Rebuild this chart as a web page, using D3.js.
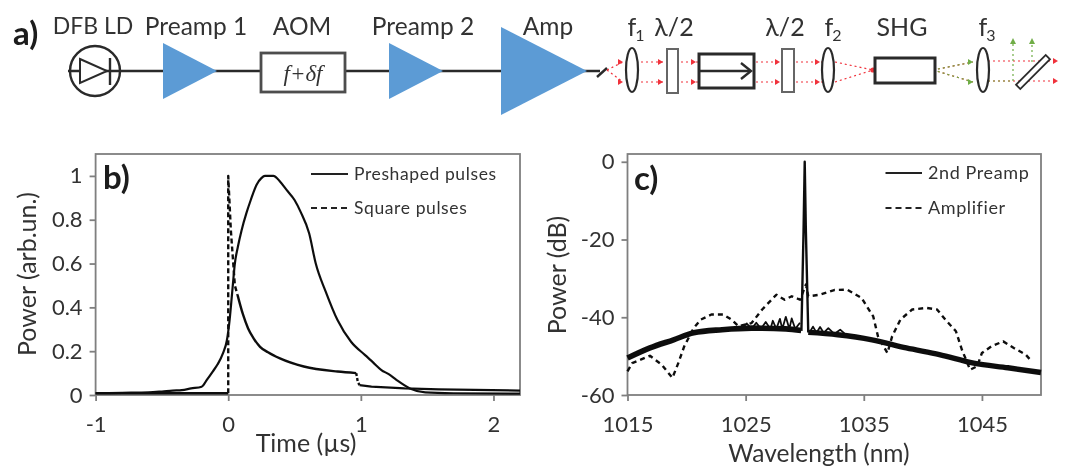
<!DOCTYPE html>
<html>
<head>
<meta charset="utf-8">
<script src="https://cdn.jsdelivr.net/npm/d3@7"></script>
<style>
  html, body { margin: 0; padding: 0; background: #fff; }
  text { font-family: Lato, "Open Sans", sans-serif; fill: #333; }
</style>
</head>
<body>
<svg id="chart" width="1067" height="466"></svg>
<script>
// panel b
const timeTicks = [-1, 0, 1, 2];
const pulseTicks = [0, 0.2, 0.4, 0.6, 0.8, 1];
const preshapedTime = [-1, -0.8, -0.6, -0.5, -0.42, -0.35, -0.28, -0.2, -0.16, -0.117, -0.08, -0.04, -0.01, 0.01, 0.03, 0.05, 0.074, 0.1, 0.137, 0.17, 0.214, 0.25, 0.277, 0.34, 0.39, 0.44, 0.5, 0.545, 0.61, 0.66, 0.735, 0.824, 0.926, 1.03, 1.09, 1.155, 1.21, 1.27, 1.37, 1.486, 1.7, 2.2];
const preshapedPower = [0.008, 0.01, 0.012, 0.016, 0.02, 0.022, 0.03, 0.038, 0.07, 0.107, 0.14, 0.19, 0.25, 0.34, 0.47, 0.6, 0.68, 0.75, 0.83, 0.89, 0.96, 0.99, 1.0, 1.0, 0.975, 0.936, 0.89, 0.837, 0.738, 0.6, 0.472, 0.342, 0.243, 0.183, 0.15, 0.114, 0.095, 0.068, 0.03, 0.012, 0.008, 0.006];
const squareRiseTime = [0, 0, 0.02, 0.05, 0.07];
const squareRisePower = [0.008, 1, 0.75, 0.5, 0.457];
const squareBaseTime = [-1, -0.5, 0];
const squareBasePower = [0.008, 0.008, 0.008];
const squareDecayTime = [0.07, 0.11, 0.15, 0.19, 0.24, 0.3, 0.39, 0.57, 0.824, 0.965];
const squareDecayPower = [0.457, 0.37, 0.304, 0.26, 0.22, 0.195, 0.167, 0.13, 0.107, 0.1];
const squareDropTime = [0.965, 0.977, 0.99];
const squareDropPower = [0.1, 0.06, 0.045];
const squareTailTime = [0.99, 1.08, 1.33, 1.59, 2.2];
const squareTailPower = [0.045, 0.038, 0.03, 0.026, 0.02];

// panel c
const wavelengthTicks = [1015, 1025, 1035, 1045];
const powerTicks = [-60, -40, -20, 0];
const preampWavelength = [1015, 1016.9, 1018.9, 1020.6, 1023, 1025.5, 1028.4, 1029.7];
const preampPower = [-50.5, -47.9, -45.8, -44, -43.2, -42.8, -43, -43.4];
const preampRightWavelength = [1030.3, 1032.8, 1035.7, 1038.6, 1041.4, 1044.3, 1047.2, 1050];
const preampRightPower = [-43.9, -44.5, -45.8, -47.9, -49.6, -51.8, -53, -54.2];
const peakWavelength = [1029.72, 1029.9, 1030, 1030.1, 1030.3];
const peakPower = [-43.5, -18, 0, -18, -43.9];
const noiseWavelength = [1024.6, 1025.1, 1025.5, 1025.9, 1026.3, 1026.7, 1027.1, 1027.3, 1027.6, 1027.9, 1028.1, 1028.4, 1028.7, 1028.9, 1029.2, 1029.6];
const noisePower = [-43, -41.6, -43, -41.4, -43, -41.2, -43, -40.9, -43, -40.4, -43, -39.9, -43, -40.3, -43, -41.4];
const noiseRightWavelength = [1030.4, 1030.7, 1031, 1031.3, 1031.6, 1032, 1032.5, 1033, 1033.6];
const noiseRightPower = [-44, -42.4, -44, -42.5, -44, -42.8, -44.3, -43.2, -44.8];
const amplifierWavelength = [1015, 1015.4, 1016.9, 1017.9, 1018.8, 1019.3, 1019.8, 1020.6, 1021.2, 1022.1, 1023.1, 1023.8, 1024.4, 1025.5, 1026.4, 1027.6, 1028.3, 1028.9, 1029.6, 1030.1, 1030.3, 1031.3, 1032.5, 1033.6, 1034.8, 1035.8, 1036.2, 1037, 1037.4, 1038.1, 1039.1, 1040.3, 1041.2, 1041.9, 1042.8, 1043.3, 1044, 1044.6, 1045, 1045.8, 1046.8, 1047.7, 1048.7, 1049.2];
const amplifierPower = [-53.9, -51.8, -49.9, -52.2, -55.6, -51.8, -47.5, -42.8, -40.6, -39.3, -39.3, -40.6, -42.3, -41.5, -38, -34.2, -35.5, -34.6, -35.5, -31.6, -34.6, -34.2, -33, -32.9, -35, -39.8, -44.9, -49.2, -44.9, -40.6, -38, -37.6, -38, -40.6, -43.6, -48.3, -53.5, -52.6, -49.2, -47.5, -46.2, -47.9, -49.6, -51.3];

const svg = d3.select("#chart");
const defs = svg.append("defs");
defs.append("filter").attr("id", "soft")
  .attr("filterUnits", "userSpaceOnUse")
  .attr("x", 0).attr("y", 0).attr("width", 1067).attr("height", 466)
  .append("feGaussianBlur").attr("stdDeviation", 0.7);
// the source picture is a soft upscale, so everything goes through a small blur
const root = svg.append("g").attr("filter", "url(#soft)");
root.append("rect").attr("width", 1067).attr("height", 466).attr("fill", "#fff");

const zip = (xs, ys) => xs.map((x, i) => [x, ys[i]]);

function drawPanel(o) {
  const g = root.append("g");
  g.append("rect")
    .attr("x", o.x.range()[0]).attr("y", o.y.range()[1])
    .attr("width", o.x.range()[1] - o.x.range()[0])
    .attr("height", o.y.range()[0] - o.y.range()[1])
    .attr("fill", "none").attr("stroke", "#7f7f7f").attr("stroke-width", 1.8);

  const bottom = g.append("g")
    .attr("transform", `translate(0,${o.y.range()[0]})`)
    .call(d3.axisBottom(o.x).tickValues(o.xTicks).tickFormat(d => String(d)).tickSize(6).tickPadding(15));
  const left = g.append("g")
    .attr("transform", `translate(${o.x.range()[0]},0)`)
    .call(d3.axisLeft(o.y).tickValues(o.yTicks).tickFormat(d => String(d)).tickSize(6).tickPadding(7));
  [bottom, left].forEach(a => {
    a.select(".domain").remove();
    a.selectAll("line").attr("stroke", "#7f7f7f").attr("stroke-width", 1.8);
    a.selectAll("text").style("font-size", "22px");
  });
  return g;
}

function drawLine(g, x, y, pts, width, dash, curve) {
  const line = d3.line().x(d => x(d[0])).y(d => y(d[1]));
  if (curve) line.curve(curve);
  g.append("path").attr("d", line(pts))
    .attr("fill", "none").attr("stroke", "#111")
    .attr("stroke-width", width).attr("stroke-linejoin", "round")
    .attr("stroke-dasharray", dash || null);
}

function legendRow(g, x0, x1, tx, y, str, dash, size) {
  g.append("line").attr("x1", x0).attr("x2", x1).attr("y1", y).attr("y2", y)
    .attr("stroke", "#222").attr("stroke-width", 2.2).attr("stroke-dasharray", dash || null);
  g.append("text").attr("x", tx).attr("y", y).attr("dy", "0.35em")
    .style("font-size", size + "px").style("letter-spacing", "0.6px").text(str);
}

function label(g, x, y, str, size, opts) {
  opts = opts || {};
  const t = g.append("text").attr("x", x).attr("y", y).attr("dy", "0.35em")
    .attr("text-anchor", opts.anchor || "middle")
    .style("font-size", size + "px").text(str);
  if (opts.bold) t.style("font-weight", 700).style("fill", "#1a1a1a");
  if (opts.italic) t.style("font-style", "italic").style("font-family", "'Liberation Serif', serif");
  if (opts.rotate) t.attr("transform", `rotate(-90,${x},${y})`);
  return t;
}

// panel b
const xb = d3.scaleLinear().domain([-1, 2.2]).range([95.6, 520]);
const yb = d3.scaleLinear().domain([0, 1.1]).range([395, 154]);
const gb = drawPanel({ x: xb, y: yb, xTicks: timeTicks, yTicks: pulseTicks });
drawLine(gb, xb, yb, zip(squareBaseTime, squareBasePower), 2.4);
drawLine(gb, xb, yb, zip(squareRiseTime, squareRisePower), 2.4, "5 3");
drawLine(gb, xb, yb, zip(squareDecayTime, squareDecayPower), 2.4, null, d3.curveMonotoneX);
drawLine(gb, xb, yb, zip(squareDropTime, squareDropPower), 2.4, "3 2");
drawLine(gb, xb, yb, zip(squareTailTime, squareTailPower), 2.2);
drawLine(gb, xb, yb, zip(preshapedTime, preshapedPower), 2.2, null, d3.curveMonotoneX);
label(gb, 103, 177, "b)", 33, { anchor: "start", bold: true });
legendRow(gb, 311, 348, 354, 174, "Preshaped pulses", null, 17.5);
legendRow(gb, 311, 348, 354, 208, "Square pulses", "6 4", 17.5);
label(gb, 27, 274, "Power (arb.un.)", 25, { rotate: true });
label(gb, 306, 443, "Time (µs)", 25);

// panel c
const xc = d3.scaleLinear().domain([1015, 1050]).range([627.5, 1041]);
const yc = d3.scaleLinear().domain([-60, 2]).range([395, 154]);
const gc = drawPanel({ x: xc, y: yc, xTicks: wavelengthTicks, yTicks: powerTicks });
drawLine(gc, xc, yc, zip(amplifierWavelength, amplifierPower), 2.4, "5 4");
drawLine(gc, xc, yc, zip(preampWavelength, preampPower), 5.6, null, d3.curveMonotoneX);
drawLine(gc, xc, yc, zip(preampRightWavelength, preampRightPower), 5.4, null, d3.curveMonotoneX);
drawLine(gc, xc, yc, zip(noiseWavelength, noisePower), 1.8);
drawLine(gc, xc, yc, zip(noiseRightWavelength, noiseRightPower), 1.8);
drawLine(gc, xc, yc, zip(peakWavelength, peakPower), 2.4);
label(gc, 634, 178, "c)", 33, { anchor: "start", bold: true });
legendRow(gc, 885.5, 922, 928, 173, "2nd Preamp", null, 18);
legendRow(gc, 885.5, 922, 928, 208, "Amplifier", "6 4", 18);
label(gc, 557, 275, "Power (dB)", 25, { rotate: true });
label(gc, 819, 453, "Wavelength (nm)", 24.5);

// panel a, the setup schematic
const ga = root.append("g");
const dark = "#2b2b2b";
const blue = "#5b9bd5";
const red = "#f0303a";
const green = "#70ad47";

function seg(x1, y1, x2, y2, color, w, dash) {
  ga.append("line").attr("x1", x1).attr("y1", y1).attr("x2", x2).attr("y2", y2)
    .attr("stroke", color).attr("stroke-width", w).attr("stroke-dasharray", dash || null);
}
function amp(x0, x1, h) {
  ga.append("polygon")
    .attr("points", [[x0, 71 - h], [x1, 71], [x0, 71 + h]].join(" "))
    .attr("fill", blue);
}
function box(x0, y0, x1, y1, color, w) {
  ga.append("rect").attr("x", x0).attr("y", y0).attr("width", x1 - x0).attr("height", y1 - y0)
    .attr("fill", "#fff").attr("stroke", color).attr("stroke-width", w);
}
function lens(cx) {
  ga.append("ellipse").attr("cx", cx).attr("cy", 70).attr("rx", 6).attr("ry", 22)
    .attr("fill", "#fff").attr("stroke", dark).attr("stroke-width", 2.2);
}
function head(x, y, color) {
  ga.append("polygon").attr("points", [[x - 5, y - 3], [x, y], [x - 5, y + 3]].join(" ")).attr("fill", color);
}

seg(68, 71, 600, 71, dark, 2.6);
ga.append("circle").attr("cx", 95).attr("cy", 71).attr("r", 25)
  .attr("fill", "none").attr("stroke", dark).attr("stroke-width", 2.4);
ga.append("polygon").attr("points", "80,59 107,71 80,83").attr("fill", "#fff").attr("stroke", dark).attr("stroke-width", 2);
seg(110, 58, 110, 85, dark, 2.4);
amp(163, 217, 28);
amp(389, 443, 28);
amp(501, 587, 44);
box(261, 53, 345, 92, "#4d4d4d", 2.8);
label(ga, 303, 73, "f+δf", 23, { italic: true });
seg(597, 77, 607, 68, dark, 2.4);

// beam rays
const rayDash = "2 3";
[[62, 623, 62], [78, 623, 82]].forEach(r => seg(607, 70, r[1], r[2], red, 1.2, rayDash));
[62, 82].forEach(y => {
  seg(636, y, 828, y, red, 1.2, rayDash);
  seg(835, y, 873, 70, red, 1.2, rayDash);
  seg(933, 70, 973, y, red, 1.2, rayDash);
  seg(933, 70, 973, y, green, 1.2, rayDash);
  seg(988, y - 1, 1056, y - 1, red, 1.2, rayDash);
  [623, 663, 696, 780, 820].forEach(x => head(x, y, red));
  head(1058, y - 1, red);
  head(973, y, green);
});
seg(988, 81, 1013, 81, green, 1.2, rayDash);
seg(1013, 81, 1013, 42, green, 1.2, rayDash);
seg(1032, 62, 1032, 42, green, 1.2, rayDash);
ga.append("polygon").attr("points", "1010,44 1013,38 1016,44").attr("fill", green);
ga.append("polygon").attr("points", "1029,44 1032,38 1035,44").attr("fill", green);
ga.append("circle").attr("cx", 873).attr("cy", 70).attr("r", 2.6).attr("fill", red);

lens(632); lens(828); lens(983);
box(667, 49, 678, 93, "#666", 2);
box(782, 49, 794, 92, "#666", 2);
box(699, 54, 754, 88, dark, 3);
seg(699, 71, 750, 71, dark, 2.4);
ga.append("polyline").attr("points", "741,63 751,71 741,79").attr("fill", "none").attr("stroke", dark).attr("stroke-width", 2.4);
box(875, 58, 935, 83, dark, 3);
ga.append("rect").attr("x", 1012).attr("y", 69).attr("width", 42).attr("height", 6)
  .attr("transform", "rotate(-45,1033,72)")
  .attr("fill", "#fff").attr("stroke", dark).attr("stroke-width", 1.8);

// schematic labels
const moduleLabels = ["DFB LD", "Preamp 1", "AOM", "Preamp 2", "Amp"];
const moduleCenters = [93, 196, 302, 423, 548];
moduleLabels.forEach((s, i) => label(ga, moduleCenters[i], 26, s, i === 0 ? 23 : 24.5));
label(ga, 13, 33, "a)", 33, { anchor: "start", bold: true });
label(ga, 674, 27, "λ/2", 25);
label(ga, 785, 27, "λ/2", 25);
label(ga, 902, 27, "SHG", 25);
[[632, "f", "1"], [829, "f", "2"], [983, "f", "3"]].forEach(d => {
  label(ga, d[0], 27, d[1], 25);
  label(ga, d[0] + 8, 35, d[2], 16);
});
</script>
</body>
</html>
